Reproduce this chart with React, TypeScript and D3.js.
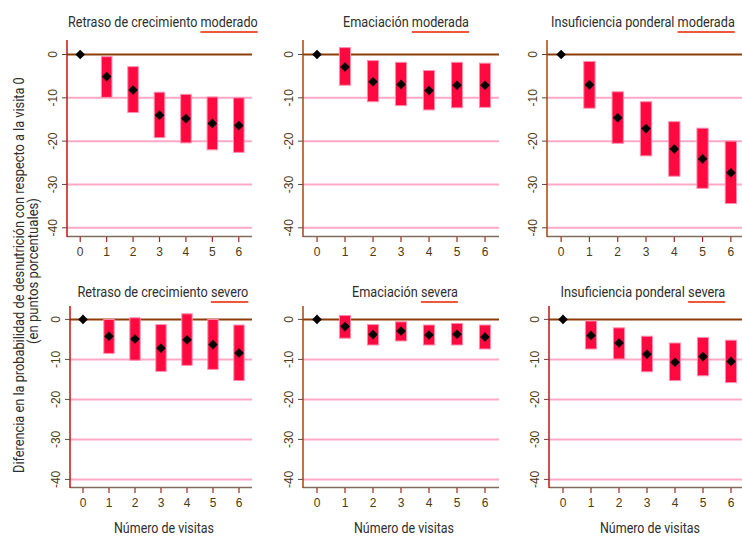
import React, { useRef, useEffect } from "react";
import * as d3 from "d3";

// visits on the x axis
const visits = [0, 1, 2, 3, 4, 5, 6];
const yTicks = [0, -10, -20, -30, -40];

// Retraso de crecimiento moderado
const stuntModEst = [0, -5.1, -8.2, -14.0, -14.8, -15.9, -16.4];
const stuntModHi = [0, -0.5, -2.8, -8.7, -9.2, -9.8, -10.0];
const stuntModLo = [0, -9.9, -13.4, -19.2, -20.4, -22.0, -22.6];

// Emaciación moderada
const wastModEst = [0, -2.9, -6.3, -6.9, -8.3, -7.1, -7.1];
const wastModHi = [0, 1.6, -1.4, -1.8, -3.7, -1.8, -2.0];
const wastModLo = [0, -7.1, -10.9, -11.8, -12.8, -12.3, -12.2];

// Insuficiencia ponderal moderada
const underModEst = [0, -7.0, -14.6, -17.1, -21.8, -24.1, -27.3];
const underModHi = [0, -1.6, -8.6, -10.9, -15.5, -17.0, -20.0];
const underModLo = [0, -12.4, -20.5, -23.4, -28.1, -30.9, -34.4];

// Retraso de crecimiento severo
const stuntSevEst = [0, -4.2, -4.9, -7.2, -5.1, -6.3, -8.4];
const stuntSevHi = [0, 0.0, 0.4, -1.3, 1.4, 0.0, -1.4];
const stuntSevLo = [0, -8.5, -10.2, -13.0, -11.5, -12.5, -15.3];

// Emaciación severa
const wastSevEst = [0, -1.8, -3.8, -2.9, -3.9, -3.7, -4.4];
const wastSevHi = [0, 1.0, -1.3, -0.6, -1.4, -1.0, -1.4];
const wastSevLo = [0, -4.7, -6.4, -5.4, -6.4, -6.4, -7.4];

// Insuficiencia ponderal severa
const underSevEst = [0, -4.0, -5.9, -8.7, -10.7, -9.3, -10.5];
const underSevHi = [0, -0.4, -2.1, -4.2, -5.9, -4.5, -5.2];
const underSevLo = [0, -7.4, -9.9, -13.1, -15.3, -14.1, -15.8];

const titles = [
  "Retraso de crecimiento",
  "Emaciación",
  "Insuficiencia ponderal",
  "Retraso de crecimiento",
  "Emaciación",
  "Insuficiencia ponderal",
];
const severity = ["moderado", "moderada", "moderada", "severo", "severa", "severa"];

const panels = [
  { est: stuntModEst, lo: stuntModLo, hi: stuntModHi },
  { est: wastModEst, lo: wastModLo, hi: wastModHi },
  { est: underModEst, lo: underModLo, hi: underModHi },
  { est: stuntSevEst, lo: stuntSevLo, hi: stuntSevHi },
  { est: wastSevEst, lo: wastSevLo, hi: wastSevHi },
  { est: underSevEst, lo: underSevLo, hi: underSevHi },
];

// plot regions
const layout = [
  { left: 67, right: 252, top: 40, bottom: 236, tx: 163, tw: 190, ty: 27, axis: "#cc1010" },
  { left: 303, right: 499, top: 40, bottom: 236, tx: 406, tw: 126, ty: 27, axis: "#a8460c" },
  { left: 547, right: 745, top: 40, bottom: 236, tx: 643, tw: 184, ty: 27, axis: "#a8460c" },
  { left: 70, right: 252, top: 306, bottom: 487, tx: 163, tw: 171, ty: 297, axis: "#cc1010" },
  { left: 303, right: 499, top: 306, bottom: 487, tx: 405, tw: 106, ty: 297, axis: "#a8460c" },
  { left: 549, right: 745, top: 306, bottom: 487, tx: 643, tw: 165, ty: 297, axis: "#cc1010" },
];

const condensed = "Roboto, 'Liberation Sans', sans-serif";
const numFont = "'Liberation Sans', Arial, sans-serif";

// draws a horizontally squeezed label (condensed look) of the given width
function squeezed(parent, label, width, size, transform) {
  const t = parent
    .append("text")
    .attr("font-family", condensed)
    .attr("font-size", size)
    .attr("fill", "#2e2e2e")
    .text(label);
  const natural = (t.node() as SVGTextElement).getComputedTextLength();
  const k = width / natural;
  t.attr("transform", `${transform} scale(${k},1)`);
  return { t, k };
}

function App() {
  const svgRef = useRef<SVGSVGElement>(null);

  useEffect(() => {
    const svg = d3.select(svgRef.current);
    svg.selectAll("*").remove();

    panels.forEach((p, i) => {
      const L = layout[i];
      const g = svg.append("g");

      const x = d3.scaleLinear().domain([-0.5, 6.5]).range([L.left, L.right]);
      const y = d3.scaleLinear().domain([-41.9, 3.35]).range([L.bottom, L.top]);
      const step = x(1) - x(0);

      // grid lines
      g.selectAll(".grid")
        .data(yTicks.filter((t) => t !== 0))
        .join("line")
        .attr("x1", L.left)
        .attr("x2", L.right)
        .attr("y1", (d) => y(d))
        .attr("y2", (d) => y(d))
        .attr("stroke", "#ffa8c8")
        .attr("stroke-width", 2);

      // zero line
      g.append("line")
        .attr("x1", L.left)
        .attr("x2", L.right)
        .attr("y1", y(0))
        .attr("y2", y(0))
        .attr("stroke", "#8b3e08")
        .attr("stroke-width", 2);

      // confidence bars
      g.selectAll(".bar")
        .data(visits.filter((v) => p.hi[v] !== p.lo[v]))
        .join("rect")
        .attr("x", (v) => x(v) - step * 0.2)
        .attr("width", step * 0.4)
        .attr("y", (v) => y(p.hi[v]))
        .attr("height", (v) => y(p.lo[v]) - y(p.hi[v]))
        .attr("fill", "#ff0a40")
        .attr("stroke", "#ff8fb0")
        .attr("stroke-width", 1);

      // point estimates
      const r = 4.8;
      g.selectAll(".dot")
        .data(visits)
        .join("path")
        .attr("d", (v) => {
          const cx = x(v);
          const cy = y(p.est[v]);
          return `M${cx},${cy - r}L${cx + r},${cy}L${cx},${cy + r}L${cx - r},${cy}Z`;
        })
        .attr("fill", "#000");

      // x axis line + ticks
      g.append("line")
        .attr("x1", L.left)
        .attr("x2", L.right)
        .attr("y1", L.bottom + 0.5)
        .attr("y2", L.bottom + 0.5)
        .attr("stroke", "#7d6b5d")
        .attr("stroke-width", 1.5);
      g.selectAll(".xt")
        .data(visits)
        .join("line")
        .attr("x1", (v) => x(v))
        .attr("x2", (v) => x(v))
        .attr("y1", L.bottom + 1)
        .attr("y2", L.bottom + 6)
        .attr("stroke", "#a0281c")
        .attr("stroke-width", 1.2);
      g.selectAll(".xl")
        .data(visits)
        .join("text")
        .attr("x", (v) => x(v))
        .attr("y", L.bottom + 20)
        .attr("text-anchor", "middle")
        .attr("font-family", numFont)
        .attr("font-size", 12)
        .attr("fill", "#4d3a12")
        .text((v) => v);

      // y axis line + ticks
      g.append("line")
        .attr("x1", L.left)
        .attr("x2", L.left)
        .attr("y1", L.top)
        .attr("y2", L.bottom + 1)
        .attr("stroke", L.axis)
        .attr("stroke-width", 1.5);
      g.selectAll(".yt")
        .data(yTicks)
        .join("line")
        .attr("x1", L.left - 5)
        .attr("x2", L.left)
        .attr("y1", (d) => y(d))
        .attr("y2", (d) => y(d))
        .attr("stroke", "#5a4a40")
        .attr("stroke-width", 1);
      g.selectAll(".yl")
        .data(yTicks)
        .join("text")
        .attr("transform", (d) => `translate(${L.left - 10},${y(d)}) rotate(-90)`)
        .attr("text-anchor", "middle")
        .attr("font-family", numFont)
        .attr("font-size", 12)
        .attr("fill", "#4d3a12")
        .text((d) => d);

      // title with underlined severity word
      const x0 = L.tx - L.tw / 2;
      const { t, k } = squeezed(
        g,
        `${titles[i]} ${severity[i]}`,
        L.tw,
        14.5,
        `translate(${x0},${L.ty})`
      );
      const node = t.node() as SVGTextElement;
      const n = node.getNumberOfChars();
      const s = titles[i].length + 1;
      const wx0 = x0 + node.getStartPositionOfChar(s).x * k;
      const wx1 = x0 + node.getEndPositionOfChar(n - 1).x * k;
      g.append("line")
        .attr("x1", wx0)
        .attr("x2", wx1)
        .attr("y1", L.ty + 5)
        .attr("y2", L.ty + 5)
        .attr("stroke", "#f0583a")
        .attr("stroke-width", 2);

      // x axis title only on bottom row
      if (i >= 3) {
        squeezed(
          g,
          "Número de visitas",
          100,
          14,
          `translate(${(L.left + L.right) / 2 + 3 - 50},533)`
        );
      }
    });

    // shared y axis title, two lines centred on the same height
    squeezed(
      svg,
      "Diferencia en la probabilidad de desnutrición con respecto a la visita 0",
      396,
      14.5,
      "translate(24,473) rotate(-90)"
    );
    squeezed(svg, "(en puntos porcentuales)", 146, 14.5, "translate(38,344) rotate(-90)");
  }, []);

  return (
    <svg
      ref={svgRef}
      width={742}
      height={537}
      style={{ position: "absolute", left: 0, top: 0, background: "#fff" }}
    />
  );
}

export default App;
